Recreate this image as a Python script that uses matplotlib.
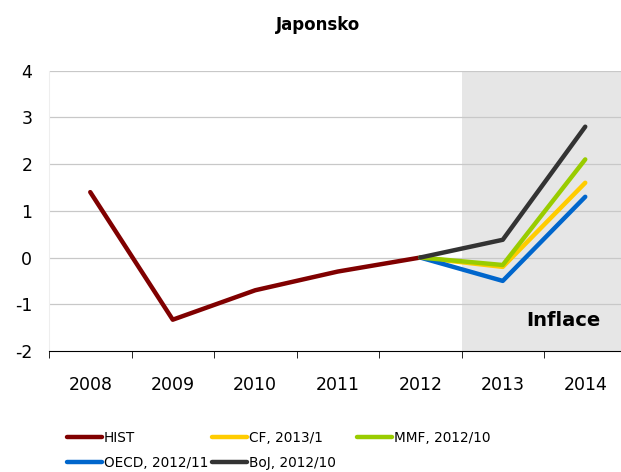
import matplotlib.pyplot as plt
import numpy as np

years = ['2008', '2009', '2010', '2011', '2012', '2013', '2014']
hist = [1.4, -1.33, -0.7, -0.3, 0.0]
cf = [0.0, -0.2, 1.6]
mmf = [0.0, -0.16, 2.1]
oecd = [0.0, -0.5, 1.3]
boj = [0.0, 0.38, 2.8]
yticks = [-2, -1, 0, 1, 2, 3, 4]

fig = plt.figure(figsize=(6.21, 4.72), dpi=100)
ax = fig.add_axes([49/621, 1 - 351/472, (626.5 - 49)/621, (351 - 70.6)/472])

x = np.arange(len(years))
xf = x[4:]
ax.axvspan(4.5, 6.5, color='#e6e6e6', zorder=0, lw=0)

for yv in yticks:
    if yv > -2:
        ax.axhline(yv, color='#c8c8c8', lw=0.9, zorder=1)

lw = 3.2
l_hist, = ax.plot(x[:5], hist, color='#800000', lw=lw, label='HIST', zorder=3, solid_capstyle='round')
l_cf, = ax.plot(xf, cf, color='#ffcc00', lw=lw, label='CF, 2013/1', zorder=3, solid_capstyle='round')
l_mmf, = ax.plot(xf, mmf, color='#99cc00', lw=lw, label='MMF, 2012/10', zorder=4, solid_capstyle='round')
l_oecd, = ax.plot(xf, oecd, color='#0066cc', lw=lw, label='OECD, 2012/11', zorder=3, solid_capstyle='round')
l_boj, = ax.plot(xf, boj, color='#333333', lw=lw, label='BoJ, 2012/10', zorder=5, solid_capstyle='round')

ax.set_xlim(-0.5, 6.5)
ax.set_ylim(-2, 4)
ax.set_yticks(yticks)
ax.set_yticklabels([str(v) for v in yticks], fontsize=12.5)
ax.set_xticks(x)
ax.set_xticklabels(years, fontsize=12.5)
ax.set_xticks(np.arange(-0.5, 6.6, 1), minor=True)
ax.tick_params(axis='x', which='major', length=0, pad=18)
ax.tick_params(axis='x', which='minor', length=5, direction='out', color='black')
ax.tick_params(axis='y', length=0, pad=12)

for s in ['top', 'right']:
    ax.spines[s].set_visible(False)
ax.spines['left'].set_color('#eeeeee')
ax.spines['bottom'].set_color('black')
ax.spines['bottom'].set_linewidth(0.8)

ax.text(5.73, -1.35, 'Inflace', fontsize=14, fontweight='bold', ha='center', va='center')
fig.text(0.512, 0.947, 'Japonsko', fontsize=12, fontweight='bold', ha='center', va='center')

# legend laid out in rows, one legend per column for even spacing
cols = [[l_hist, l_oecd], [l_cf, l_boj], [l_mmf]]
for i, hs in enumerate(cols):
    leg = fig.legend(handles=hs, labels=[h.get_label() for h in hs],
                     loc='upper left', bbox_to_anchor=((67 + 145 * i)/621, 1 - 431/472),
                     ncol=1, frameon=False, fontsize=9.8, handlelength=2.55,
                     handletextpad=0.15, labelspacing=0.8, borderpad=0, borderaxespad=0)

fig.savefig('out.png', dpi=100)
